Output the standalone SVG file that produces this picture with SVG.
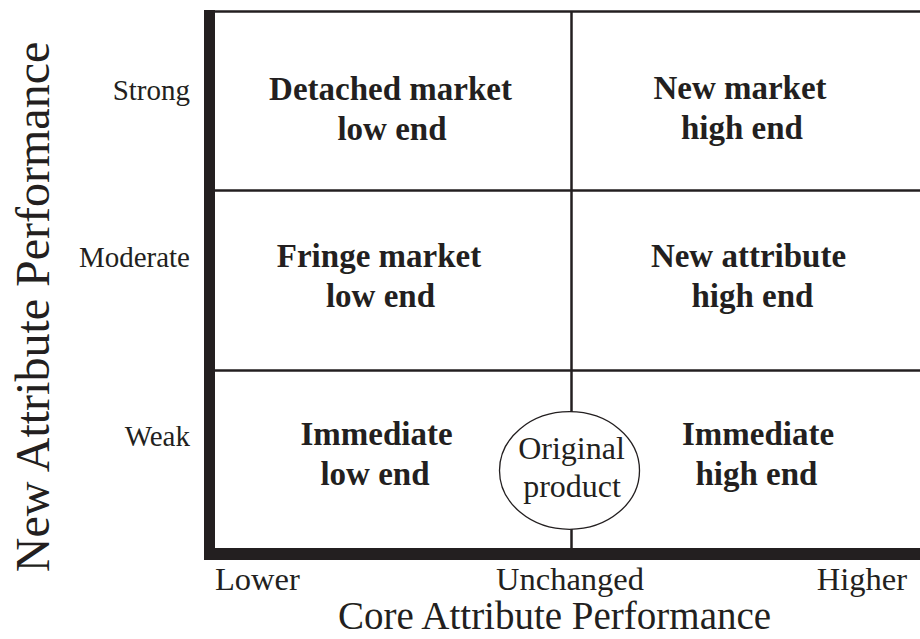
<svg xmlns="http://www.w3.org/2000/svg" width="920" height="639" viewBox="0 0 920 639">
<style>
.cell{font-family:"Liberation Serif","Times New Roman",serif;font-weight:bold;font-size:33px;fill:#231f20;text-anchor:middle}
.tick{font-family:"Liberation Serif","Times New Roman",serif;font-size:29px;fill:#231f20;text-anchor:end}
.xtick{font-family:"Liberation Serif","Times New Roman",serif;font-size:32.5px;fill:#231f20}
.title{font-family:"Liberation Serif","Times New Roman",serif;font-size:39px;fill:#231f20;text-anchor:middle}
.orig{font-family:"Liberation Serif","Times New Roman",serif;font-size:32px;fill:#231f20;text-anchor:middle}
.grid{stroke:#231f20;stroke-width:2.5;fill:none}
</style>
<rect width="920" height="639" fill="#ffffff"/>
<g id="grid">
<line class="grid" x1="214" y1="11.5" x2="920" y2="11.5"/>
<line class="grid" x1="214" y1="190.5" x2="920" y2="190.5"/>
<line class="grid" x1="214" y1="370.5" x2="920" y2="370.5"/>
<line class="grid" x1="571.5" y1="11.5" x2="571.5" y2="549"/>
</g>
<g id="axes">
<rect x="204" y="10" width="11" height="550" fill="#231f20"/>
<rect x="204" y="548" width="716" height="12" fill="#231f20"/>
</g>
<g id="cell-detached">
<text class="cell" x="390.5" y="100">Detached market</text>
<text class="cell" x="392" y="140">low end</text>
</g>
<g id="cell-newmarket">
<text class="cell" x="740" y="99">New market</text>
<text class="cell" x="742" y="139">high end</text>
</g>
<g id="cell-fringe">
<text class="cell" x="379" y="267">Fringe market</text>
<text class="cell" x="380.5" y="307">low end</text>
</g>
<g id="cell-newattribute">
<text class="cell" x="748.5" y="267">New attribute</text>
<text class="cell" x="752.5" y="307">high end</text>
</g>
<g id="cell-immediate-low">
<text class="cell" x="376.5" y="445">Immediate</text>
<text class="cell" x="375" y="485">low end</text>
</g>
<g id="cell-immediate-high">
<text class="cell" x="758" y="445">Immediate</text>
<text class="cell" x="756.5" y="485">high end</text>
</g>
<g id="original-product">
<ellipse cx="569.5" cy="470.5" rx="70" ry="58.8" fill="#ffffff" stroke="#231f20" stroke-width="1.3"/>
<text class="orig" x="571.5" y="459">Original</text>
<text class="orig" x="572" y="497">product</text>
</g>
<g id="y-ticks">
<text class="tick" x="190" y="100">Strong</text>
<text class="tick" x="190" y="267">Moderate</text>
<text class="tick" x="190" y="446">Weak</text>
</g>
<g id="x-ticks">
<text class="xtick" x="215" y="590">Lower</text>
<text class="xtick" x="570" y="590" text-anchor="middle">Unchanged</text>
<text class="xtick" x="907" y="590" text-anchor="end">Higher</text>
</g>
<text class="title" x="554.5" y="629">Core Attribute Performance</text>
<text class="title" transform="translate(49,307) rotate(-90)" x="0" y="0" style="font-size:48px">New Attribute Performance</text>
</svg>
